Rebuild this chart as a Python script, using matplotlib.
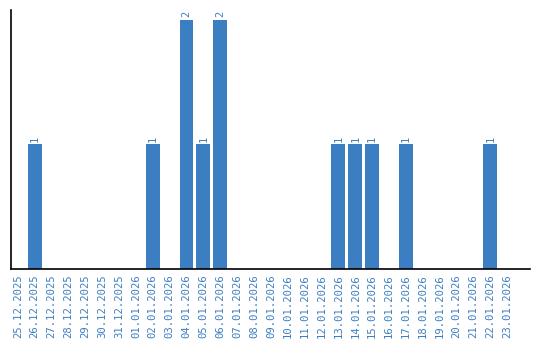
import matplotlib
matplotlib.use('Agg')
import matplotlib.pyplot as plt

# daily counts
dates = ['25.12.2025', '26.12.2025', '27.12.2025', '28.12.2025', '29.12.2025', '30.12.2025',
         '31.12.2025', '01.01.2026', '02.01.2026', '03.01.2026', '04.01.2026', '05.01.2026',
         '06.01.2026', '07.01.2026', '08.01.2026', '09.01.2026', '10.01.2026', '11.01.2026',
         '12.01.2026', '13.01.2026', '14.01.2026', '15.01.2026', '16.01.2026', '17.01.2026',
         '18.01.2026', '19.01.2026', '20.01.2026', '21.01.2026', '22.01.2026', '23.01.2026']
counts = [0, 1, 0, 0, 0, 0, 0, 0, 1, 0, 2, 1, 2, 0, 0, 0, 0, 0, 0, 1, 1, 1, 0, 1, 0, 0, 0, 0, 1, 0]

BLUE = '#3b7ec2'

fig = plt.figure(figsize=(5.4, 3.4), dpi=100)
ax = fig.add_axes([0.0204, 0.209, 0.961, 0.762])

x = list(range(len(dates)))
bars = ax.bar(x, counts, width=0.82, color=BLUE)

# value labels only on non-empty bars
for xi, c in zip(x, counts):
    if c > 0:
        ax.text(xi, c + 0.02, str(c), rotation=90, ha='center', va='bottom',
                color=BLUE, fontsize=7.5, family='DejaVu Sans Mono')

ax.set_xticks(x)
ax.set_xticklabels(dates, rotation=90, color=BLUE, fontsize=7.6, family='DejaVu Sans Mono')
ax.tick_params(axis='x', length=0, pad=4)
ax.set_yticks([])
ax.set_xlim(-0.4, 30.35)
ax.set_ylim(0, 2.08)

ax.spines['top'].set_visible(False)
ax.spines['right'].set_visible(False)
ax.spines['left'].set_linewidth(1.2)
ax.spines['bottom'].set_linewidth(1.2)
ax.spines['left'].set_color('black')
ax.spines['bottom'].set_color('black')

plt.savefig('out.png', dpi=100)
